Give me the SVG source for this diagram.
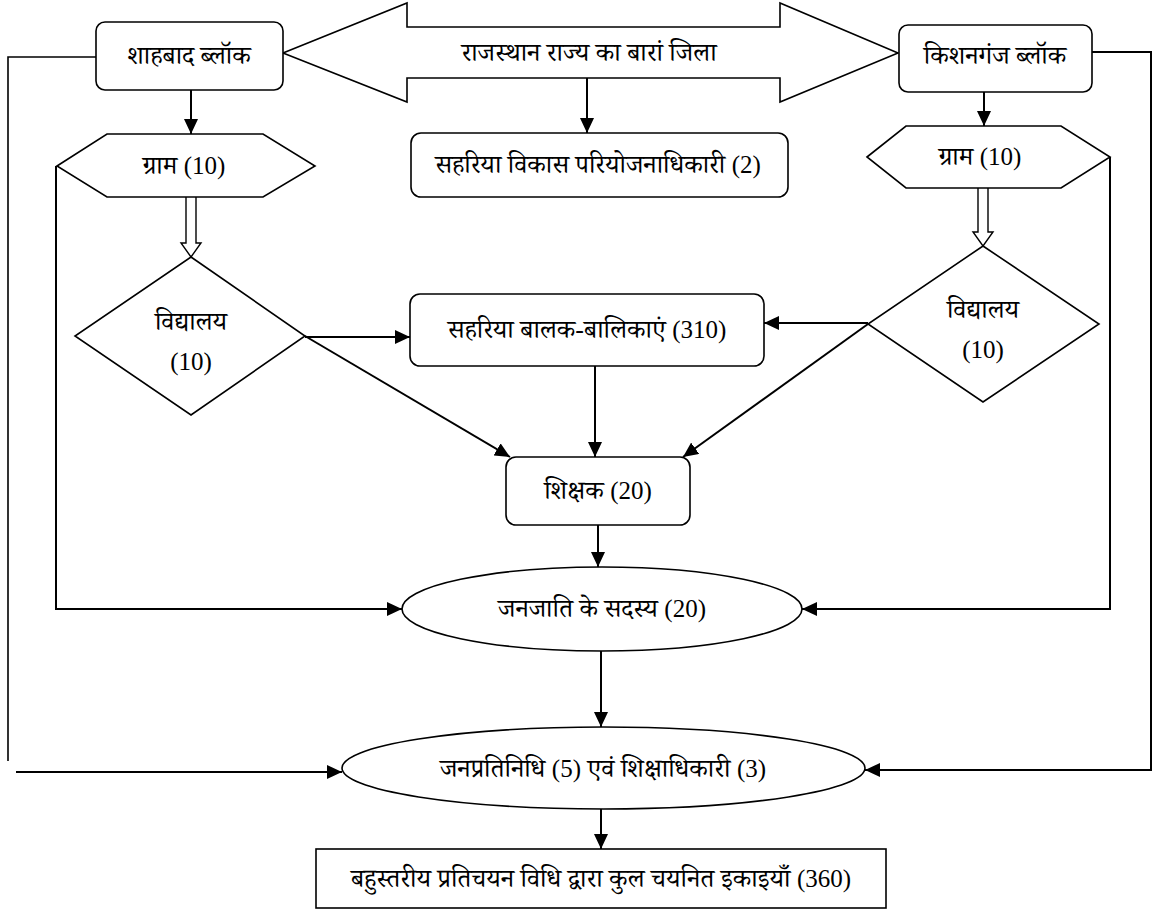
<svg xmlns="http://www.w3.org/2000/svg" width="1158" height="913" viewBox="0 0 1158 913">
<style>
  .shape { fill: #fff; stroke: #000; stroke-width: 1.6; }
  .conn { fill: none; stroke: #000; stroke-width: 2; }
  .thin { fill: none; stroke: #000; stroke-width: 1.6; }
  .hollow { fill: #fff; stroke: #000; stroke-width: 1.4; }
  text { font-family: "Liberation Serif", "Noto Serif Devanagari", "Noto Sans Devanagari", "Noto Sans", serif; font-size: 26px; fill: #000; text-anchor: middle; }
  .n { font-size: 25px; }
</style>
<defs>
  <marker id="ah" markerUnits="userSpaceOnUse" markerWidth="15" markerHeight="14" refX="15" refY="7" orient="auto">
    <path d="M0,0 L15,7 L0,14 z" fill="#000"/>
  </marker>
</defs>
<rect width="1158" height="913" fill="#fff"/>

<g id="connectors">
  <line class="conn" x1="191" y1="90" x2="191" y2="134" marker-end="url(#ah)"/>
  <line class="conn" x1="984" y1="92" x2="984" y2="126" marker-end="url(#ah)"/>
  <line class="conn" x1="587" y1="78" x2="587" y2="133" marker-end="url(#ah)"/>
  <path class="hollow" d="M186,197 L186,243 L181,243 L191,257 L201,243 L196,243 L196,197"/>
  <path class="hollow" d="M978,188 L978,232 L973,232 L983,246 L993,232 L988,232 L988,188"/>
  <line class="conn" x1="305" y1="337" x2="410" y2="337" marker-end="url(#ah)"/>
  <line class="conn" x1="305" y1="336" x2="510" y2="457" marker-end="url(#ah)"/>
  <line class="conn" x1="868" y1="323" x2="764" y2="323" marker-end="url(#ah)"/>
  <line class="conn" x1="868" y1="324" x2="683" y2="457" marker-end="url(#ah)"/>
  <line class="conn" x1="595" y1="366" x2="595" y2="457" marker-end="url(#ah)"/>
  <line class="conn" x1="598" y1="525" x2="598" y2="567" marker-end="url(#ah)"/>
  <polyline class="conn" points="56,166 56,609 402,609" marker-end="url(#ah)"/>
  <polyline class="conn" points="1110,157 1110,609 802,609" marker-end="url(#ah)"/>
  <line class="conn" x1="601" y1="651" x2="601" y2="727" marker-end="url(#ah)"/>
  <line class="conn" x1="601" y1="809" x2="601" y2="849" marker-end="url(#ah)"/>
  <polyline class="thin" points="96,57 8,57 8,761"/>
  <line class="conn" x1="16" y1="772" x2="342" y2="772" marker-end="url(#ah)"/>
  <polyline class="conn" points="1092,52 1151,52 1151,770 865,770" marker-end="url(#ah)"/>
</g>

<g id="district">
  <path class="shape" stroke-width="2" d="M283,53 L407,3 L407,27 L780,27 L780,3 L898,53 L780,102 L780,78 L407,78 L407,102 Z"/>
  <text x="589" y="61">राजस्थान राज्य का बारां जिला</text>
</g>

<g id="shahabad">
  <rect class="shape" x="96" y="22" width="187" height="68" rx="9"/>
  <text x="189" y="64">शाहबाद ब्लॉक</text>
</g>

<g id="kishanganj">
  <rect class="shape" x="899" y="25" width="193" height="67" rx="9"/>
  <text x="995" y="64">किशनगंज ब्लॉक</text>
</g>

<g id="pariyojana">
  <rect class="shape" x="411" y="133" width="377" height="64" rx="10"/>
  <text x="598" y="173">सहरिया विकास परियोजनाधिकारी <tspan class="n">(2)</tspan></text>
</g>

<g id="gram-left">
  <polygon class="shape" points="57,166 107,134 263,134 315,166 263,197 107,197"/>
  <text x="184" y="174">ग्राम <tspan class="n">(10)</tspan></text>
</g>

<g id="gram-right">
  <polygon class="shape" points="867,157 906,126 1061,126 1110,157 1061,188 906,188"/>
  <text x="980" y="165">ग्राम <tspan class="n">(10)</tspan></text>
</g>

<g id="vidyalaya-left">
  <polygon class="shape" points="191,257 305,336 191,415 75,336"/>
  <text x="191" y="330">विद्यालय</text>
  <text x="191" y="370" class="n">(10)</text>
</g>

<g id="vidyalaya-right">
  <polygon class="shape" points="983,246 1099,324 983,402 868,324"/>
  <text x="983" y="318">विद्यालय</text>
  <text x="983" y="358" class="n">(10)</text>
</g>

<g id="balak">
  <rect class="shape" x="410" y="294" width="354" height="72" rx="10"/>
  <text x="587" y="338">सहरिया बालक-बालिकाएं <tspan class="n">(310)</tspan></text>
</g>

<g id="shikshak">
  <rect class="shape" x="506" y="457" width="184" height="68" rx="10"/>
  <text x="598" y="499">शिक्षक <tspan class="n">(20)</tspan></text>
</g>

<g id="janjati">
  <ellipse class="shape" cx="602" cy="609" rx="200" ry="42"/>
  <text x="602" y="617">जनजाति के सदस्य <tspan class="n">(20)</tspan></text>
</g>

<g id="janpratinidhi">
  <ellipse class="shape" cx="603.5" cy="768" rx="261.5" ry="41"/>
  <text x="603" y="777">जनप्रतिनिधि <tspan class="n">(5)</tspan> एवं शिक्षाधिकारी <tspan class="n">(3)</tspan></text>
</g>

<g id="total">
  <rect class="shape" x="316" y="849" width="570" height="59"/>
  <text x="601" y="887">बहुस्तरीय प्रतिचयन विधि द्वारा कुल चयनित इकाइयाँ <tspan class="n">(360)</tspan></text>
</g>
</svg>
